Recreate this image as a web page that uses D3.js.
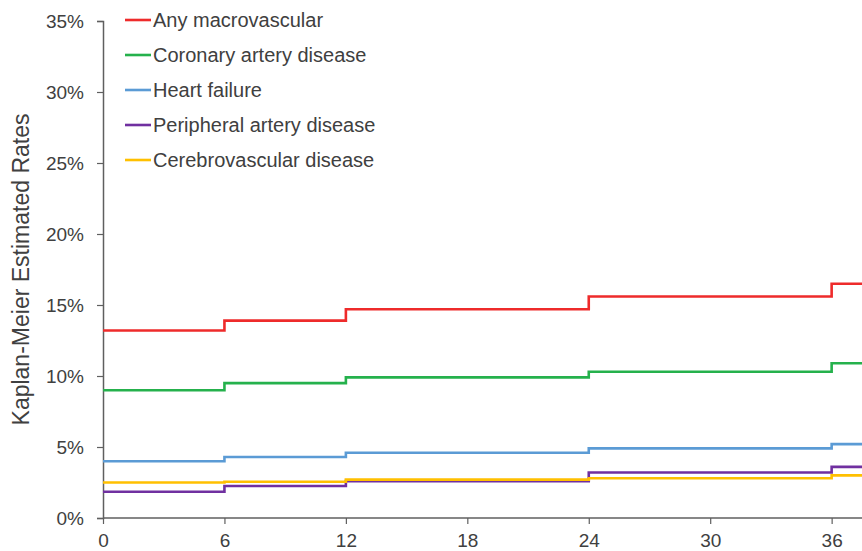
<!DOCTYPE html>
<html>
<head>
<meta charset="utf-8">
<script src="https://cdn.jsdelivr.net/npm/d3@7"></script>
<style>
  html, body { margin: 0; padding: 0; background: #fff; }
  svg { display: block; font-family: "Liberation Sans", Arial, sans-serif; }
</style>
</head>
<body>
<svg id="chart" width="862" height="551"></svg>
<script>
// Step points: value holds from month t until the next step
const months = [0, 6, 12, 24, 36, 37.5];
const seriesNames = ["Any macrovascular", "Coronary artery disease", "Heart failure", "Peripheral artery disease", "Cerebrovascular disease"];
const anyMacro   = [13.2, 13.9, 14.7, 15.6, 16.5, 16.5];
const coronary   = [9.0, 9.5, 9.9, 10.3, 10.9, 10.9];
const heartFail  = [4.0, 4.3, 4.6, 4.9, 5.2, 5.2];
const peripheral = [1.85, 2.25, 2.6, 3.2, 3.6, 3.6];
const cerebro    = [2.5, 2.55, 2.7, 2.8, 3.0, 3.0];
const colors = ["#ee2b2b", "#25b14c", "#5b9bd5", "#7030a0", "#ffc000"];
const xTicks = [0, 6, 12, 18, 24, 30, 36];
const yTicks = [0, 5, 10, 15, 20, 25, 30, 35];
const yLabel = "Kaplan-Meier Estimated Rates";

const allSeries = [anyMacro, coronary, heartFail, peripheral, cerebro];

const svg = d3.select("#chart");
const x = d3.scaleLinear().domain([0, 37.5]).range([103, 862]);
const y = d3.scaleLinear().domain([0, 35]).range([518, 21]);

const axisColor = "#5f5f5f";
const textColor = "#404040";

// Y axis
const yAxis = svg.append("g").attr("transform", `translate(${x(0)},0)`)
  .call(d3.axisLeft(y).tickValues(yTicks).tickFormat(d => d + "%").tickSize(6).tickPadding(13));
yAxis.select(".domain").attr("stroke", axisColor).attr("stroke-width", 1.5);
yAxis.selectAll(".tick line").attr("stroke", axisColor).attr("stroke-width", 1.2);
yAxis.selectAll(".tick text").attr("fill", textColor).attr("font-size", 19)
  .attr("font-family", "Liberation Sans, Arial, sans-serif");

// X axis
const xAxis = svg.append("g").attr("transform", `translate(0,${y(0)})`)
  .call(d3.axisBottom(x).tickValues(xTicks).tickSize(6).tickPadding(10));
xAxis.select(".domain").attr("stroke", axisColor).attr("stroke-width", 1.5)
  .attr("d", `M${x(0)},0H${x(37.5)}`);
xAxis.selectAll(".tick line").attr("stroke", axisColor).attr("stroke-width", 1.2);
xAxis.selectAll(".tick text").attr("fill", textColor).attr("font-size", 19)
  .attr("font-family", "Liberation Sans, Arial, sans-serif");

// Y label
svg.append("text")
  .attr("transform", `translate(29,${(y(0)+y(35))/2}) rotate(-90)`)
  .attr("text-anchor", "middle")
  .attr("fill", textColor)
  .attr("font-size", 23)
  .text(yLabel);

// Lines
const line = d3.line().x((d, i) => x(months[i])).y(d => y(d)).curve(d3.curveStepAfter);
allSeries.forEach((s, k) => {
  svg.append("path")
    .datum(s)
    .attr("fill", "none")
    .attr("stroke", colors[k])
    .attr("stroke-width", 2.6)
    .attr("d", line);
});

// Legend
const legend = svg.append("g");
seriesNames.forEach((name, i) => {
  const ly = 20 + i * 35;
  legend.append("line")
    .attr("x1", 125).attr("x2", 151).attr("y1", ly).attr("y2", ly)
    .attr("stroke", colors[i]).attr("stroke-width", 2.6);
  legend.append("text")
    .attr("x", 153).attr("y", ly + 7)
    .attr("fill", textColor)
    .attr("font-size", 20)
    .text(name);
});
</script>
</body>
</html>
